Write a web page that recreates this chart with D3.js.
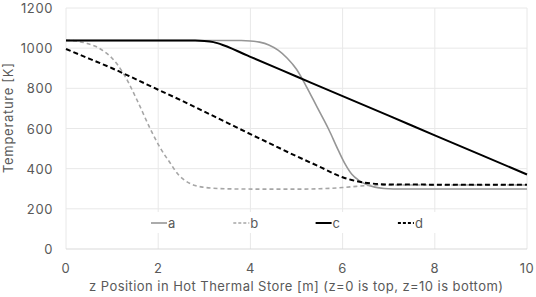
<!DOCTYPE html>
<html>
<head>
<meta charset="utf-8">
<script src="https://cdn.jsdelivr.net/npm/d3@7"></script>
<style>
  body { margin: 0; background: #fff; }
  text { font-family: Inter, "Liberation Sans", sans-serif; fill: #595959; }
</style>
</head>
<body>
<svg id="svg" width="536" height="297"></svg>
<script>
// series data: [z, temperature]
const seriesA = [[0, 1038], [3.8, 1038], [4.0, 1036], [4.2, 1030], [4.4, 1016], [4.6, 990], [4.8, 950], [5.0, 895], [5.2, 815], [5.45, 705], [5.7, 595], [5.9, 495], [6.05, 425], [6.2, 372], [6.35, 342], [6.5, 323], [6.7, 308], [6.9, 301], [7.1, 299], [10, 299]];
const seriesB = [[0, 1040], [0.2, 1036], [0.45, 1024], [0.65, 1008], [0.8, 988], [1.0, 950], [1.24, 876], [1.54, 742], [1.82, 602], [2.04, 505], [2.26, 428], [2.43, 372], [2.6, 338], [2.8, 316], [3.0, 307], [3.3, 301], [3.7, 299], [4.5, 298], [5.0, 298], [5.5, 300], [6.0, 306], [6.3, 312], [6.6, 317], [7.0, 319], [10, 319]];
const seriesC = [[0, 1038], [2.8, 1038], [3.0, 1036], [3.2, 1030], [3.4, 1016], [3.6, 998], [3.8, 977], [4, 957], [5, 859], [6, 761], [7, 664], [8, 566], [9, 469], [10, 371]];
const seriesD = [[0, 996], [0.5, 948], [1, 900], [1.5, 847], [2, 793], [2.5, 740], [3, 684], [3.5, 628], [4, 572], [4.5, 517], [5, 462], [5.5, 410], [6, 357], [6.3, 338], [6.6, 327], [7, 321], [10, 320]];
const names = ["a", "b", "c", "d"];
const xTicks = [0, 2, 4, 6, 8, 10];
const yTicks = [0, 200, 400, 600, 800, 1000, 1200];

const svg = d3.select("#svg"),
    x = d3.scaleLinear().domain([0, 10]).range([66, 527]),
    y = d3.scaleLinear().domain([0, 1200]).range([249, 8]);

const styles = [
    {color: "#969696", width: 1.6, dash: null},
    {color: "#a6a6a6", width: 1.6, dash: "4 3"},
    {color: "#000", width: 2, dash: null},
    {color: "#000", width: 2, dash: "5 3"}
];

// gridlines
svg.append("g").selectAll("line.h").data(yTicks.slice(1)).join("line")
    .attr("x1", x(0)).attr("x2", x(10)).attr("y1", d => y(d)).attr("y2", d => y(d))
    .style("stroke", "#e8e8e8").style("stroke-width", 1);
svg.append("g").selectAll("line.v").data(xTicks).join("line")
    .attr("x1", d => x(d)).attr("x2", d => x(d)).attr("y1", y(0)).attr("y2", y(1200))
    .style("stroke", "#e8e8e8").style("stroke-width", 1);
svg.append("line").attr("x1", x(0)).attr("x2", x(10)).attr("y1", y(0)).attr("y2", y(0))
    .style("stroke", "#d9d9d9").style("stroke-width", 1);

// legend background sits over the grid
svg.append("rect").attr("x", 140).attr("y", 212).attr("width", 300).attr("height", 21).style("fill", "#fff");

const line = d3.line().x(d => x(d[0])).y(d => y(d[1])).curve(d3.curveMonotoneX);
[seriesA, seriesB, seriesC, seriesD].forEach((s, i) => {
    svg.append("path").attr("d", line(s))
        .style("fill", "none").style("stroke", styles[i].color).style("stroke-width", styles[i].width)
        .attr("stroke-dasharray", styles[i].dash);
});

// legend
const lg = svg.append("g").selectAll("g").data(names).join("g")
    .attr("transform", (d, i) => `translate(${151 + i * 82.3}, 223)`);
lg.append("line").attr("x1", 0).attr("x2", 16).attr("y1", 0).attr("y2", 0)
    .style("stroke", (d, i) => styles[i].color).style("stroke-width", (d, i) => styles[i].width)
    .attr("stroke-dasharray", (d, i) => styles[i].dash ? "3 2" : null);
lg.append("text").attr("x", 17).attr("y", 4.5).style("font-size", "13px").text(d => d);

// tick labels
svg.append("g").selectAll("text").data(yTicks).join("text")
    .attr("x", 53).attr("y", d => y(d) + 5).attr("text-anchor", "end")
    .style("font-size", "13px").style("letter-spacing", "0.6px").text(d => d);
svg.append("g").selectAll("text").data(xTicks).join("text")
    .attr("x", d => x(d)).attr("y", 273).attr("text-anchor", "middle")
    .style("font-size", "13px").style("letter-spacing", "0.6px").text(d => d);

// axis titles
svg.append("text").attr("x", 296).attr("y", 291).attr("text-anchor", "middle")
    .style("font-size", "13px").attr("textLength", 414).attr("lengthAdjust", "spacing")
    .text("z Position in Hot Thermal Store [m] (z=0 is top, z=10 is bottom)");
svg.append("text").attr("transform", "translate(13, 118) rotate(-90)").attr("text-anchor", "middle")
    .style("font-size", "13px").attr("textLength", 110).attr("lengthAdjust", "spacing")
    .text("Temperature [K]");
</script>
</body>
</html>
